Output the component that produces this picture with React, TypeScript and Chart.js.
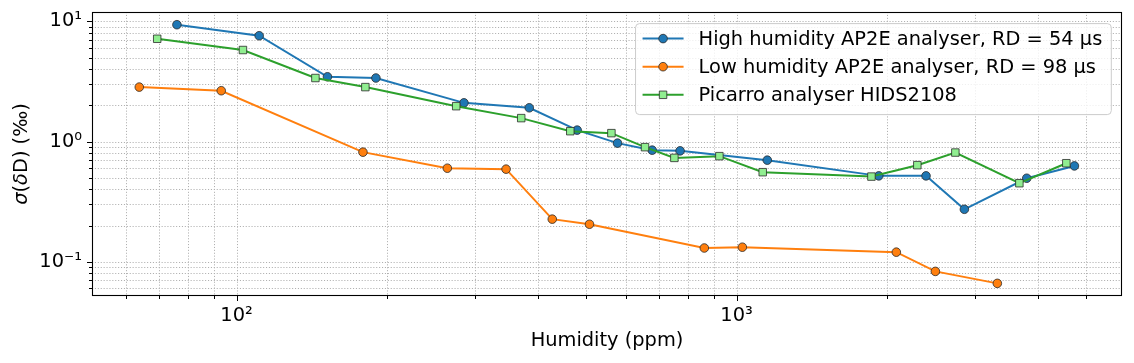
import React, { useEffect, useRef } from 'react';
import { Chart, registerables } from 'chart.js';

Chart.register(...registerables);

const FONT = '"DejaVu Sans", sans-serif';
const FONT_SIZE = 19.4;

// ---- data ----
const highHumidityX = [76, 111, 152, 190, 285, 385, 480, 578, 678, 771, 1152, 1925, 2393, 2855, 3805, 4739];
const highHumidityY = [9.39, 7.6, 3.46, 3.38, 2.1, 1.91, 1.245, 0.97, 0.848, 0.837, 0.7, 0.518, 0.518, 0.273, 0.495, 0.627];

const lowHumidityX = [63.9, 93.2, 179, 264, 346, 428, 508, 862, 1027, 2087, 2498, 3323];
const lowHumidityY = [2.84, 2.65, 0.816, 0.6, 0.589, 0.226, 0.205, 0.13, 0.132, 0.12, 0.083, 0.066];

const picarroX = [69.4, 103, 143.8, 181, 275, 371, 465, 562, 656, 751, 924, 1128, 1861, 2299, 2739, 3678, 4566];
const picarroY = [7.17, 5.78, 3.38, 2.84, 1.97, 1.567, 1.22, 1.175, 0.898, 0.731, 0.756, 0.556, 0.511, 0.636, 0.81, 0.45, 0.66];

const seriesLabels = [
  'High humidity AP2E analyser, RD = 54 µs',
  'Low humidity AP2E analyser, RD = 98 µs',
  'Picarro analyser HIDS2108',
];

const xMajorTicks = [100, 1000];
const xMajorTickLabels = ['10²', '10³'];
const xMinorTicks = [60, 70, 80, 90, 200, 300, 400, 500, 600, 700, 800, 900, 2000, 3000, 4000, 5000];

const yMajorTicks = [0.1, 1, 10];
const yMajorTickLabels = ['10⁻¹', '10⁰', '10¹'];
const yMinorTicks = [0.06, 0.07, 0.08, 0.09, 0.2, 0.3, 0.4, 0.5, 0.6, 0.7, 0.8, 0.9, 2, 3, 4, 5, 6, 7, 8, 9];

const xRange = [51.4, 5900];
const yRange = [0.0518, 11.98];

const xTitle = 'Humidity (ppm)';
// y title pieces: [text, italic]
const yTitleParts: [string, boolean][] = [
  ['σ', true],
  ['(', false],
  ['δ', true],
  ['D) (‰)', false],
];

// ---- styles ----
const seriesStyles = [
  { line: '#1f77b4', fill: '#1f77b4', shape: 'circle', radius: 4.3 },
  { line: '#ff7f0e', fill: '#ff7f0e', shape: 'circle', radius: 4.3 },
  { line: '#2ca02c', fill: '#90ee90', shape: 'rect', radius: 5.3 },
];
const MARKER_EDGE = '#2b2b2b';

function drawMarker(ctx: CanvasRenderingContext2D, shape: string, x: number, y: number, r: number, fill: string) {
  ctx.save();
  ctx.fillStyle = fill;
  ctx.strokeStyle = MARKER_EDGE;
  ctx.lineWidth = 0.8;
  ctx.setLineDash([]);
  ctx.beginPath();
  if (shape === 'rect') {
    const s = r * Math.SQRT1_2;
    ctx.rect(x - s, y - s, 2 * s, 2 * s);
  } else {
    ctx.arc(x, y, r, 0, Math.PI * 2);
  }
  ctx.fill();
  ctx.stroke();
  ctx.restore();
}

const decorPlugin = {
  id: 'decor',
  beforeDatasetsDraw(chart: any) {
    const { ctx, chartArea: a, scales } = chart;
    ctx.save();
    ctx.beginPath();
    ctx.rect(a.left, a.top, a.right - a.left, a.bottom - a.top);
    ctx.clip();
    ctx.strokeStyle = '#b0b0b0';
    ctx.lineWidth = 1;
    ctx.setLineDash([1.1, 1.8]);
    for (const v of [...xMajorTicks, ...xMinorTicks]) {
      const px = Math.round(scales.x.getPixelForValue(v)) + 0.5;
      ctx.beginPath();
      ctx.moveTo(px, a.top);
      ctx.lineTo(px, a.bottom);
      ctx.stroke();
    }
    for (const v of [...yMajorTicks, ...yMinorTicks]) {
      const py = Math.round(scales.y.getPixelForValue(v)) + 0.5;
      ctx.beginPath();
      ctx.moveTo(a.left, py);
      ctx.lineTo(a.right, py);
      ctx.stroke();
    }
    ctx.restore();

    // y axis title with italic Greek letters
    ctx.save();
    const cx = 21.5;
    const cy = (a.top + a.bottom) / 2;
    const fontN = `${FONT_SIZE}px ${FONT}`;
    const fontI = `italic ${FONT_SIZE}px ${FONT}`;
    let total = 0;
    const widths = yTitleParts.map(([t, it]) => {
      ctx.font = it ? fontI : fontN;
      const w = ctx.measureText(t).width;
      total += w;
      return w;
    });
    ctx.translate(cx, cy);
    ctx.rotate(-Math.PI / 2);
    ctx.fillStyle = '#000';
    ctx.textBaseline = 'middle';
    ctx.textAlign = 'left';
    let x = -total / 2;
    yTitleParts.forEach(([t, it], i) => {
      ctx.font = it ? fontI : fontN;
      ctx.fillText(t, x, 0);
      x += widths[i];
    });
    ctx.restore();
  },
  afterDatasetsDraw(chart: any) {
    const { ctx, chartArea: a, scales } = chart;
    ctx.save();
    ctx.setLineDash([]);
    // tick marks
    ctx.strokeStyle = '#000';
    ctx.lineWidth = 1;
    const xt = (v: number, len: number) => {
      const px = Math.round(scales.x.getPixelForValue(v)) + 0.5;
      ctx.beginPath();
      ctx.moveTo(px, a.bottom);
      ctx.lineTo(px, a.bottom + len);
      ctx.stroke();
    };
    const yt = (v: number, len: number) => {
      const py = Math.round(scales.y.getPixelForValue(v)) + 0.5;
      ctx.beginPath();
      ctx.moveTo(a.left, py);
      ctx.lineTo(a.left - len, py);
      ctx.stroke();
    };
    xMajorTicks.forEach((v) => xt(v, 5));
    xMinorTicks.forEach((v) => xt(v, 3));
    yMajorTicks.forEach((v) => yt(v, 5));
    yMinorTicks.forEach((v) => yt(v, 3));
    // frame
    ctx.lineWidth = 1.1;
    ctx.strokeStyle = '#000';
    ctx.strokeRect(Math.round(a.left) + 0.5, Math.round(a.top) + 0.5, Math.round(a.right - a.left) - 1, Math.round(a.bottom - a.top) - 1);

    // legend
    ctx.font = `${FONT_SIZE}px ${FONT}`;
    const textW = Math.max(...seriesLabels.map((s) => ctx.measureText(s).width));
    const padL = 7, handleLen = 41, handlePad = 15, padR = 9;
    const boxW = padL + handleLen + handlePad + textW + padR;
    const boxH = 91;
    const right = a.right - 10.7;
    const top = a.top + 11.6;
    const left = right - boxW;
    const rr = 4;
    ctx.beginPath();
    ctx.moveTo(left + rr, top);
    ctx.arcTo(right, top, right, top + boxH, rr);
    ctx.arcTo(right, top + boxH, left, top + boxH, rr);
    ctx.arcTo(left, top + boxH, left, top, rr);
    ctx.arcTo(left, top, right, top, rr);
    ctx.closePath();
    ctx.fillStyle = 'rgba(255,255,255,0.8)';
    ctx.fill();
    ctx.strokeStyle = '#cccccc';
    ctx.lineWidth = 1;
    ctx.stroke();
    const rowGap = 28.1;
    seriesLabels.forEach((label, i) => {
      const st = seriesStyles[i];
      const cy = top + 15 + i * rowGap;
      const x0 = left + padL;
      ctx.strokeStyle = st.line;
      ctx.lineWidth = 2;
      ctx.beginPath();
      ctx.moveTo(x0, cy);
      ctx.lineTo(x0 + handleLen, cy);
      ctx.stroke();
      drawMarker(ctx, st.shape, x0 + handleLen / 2, cy, st.radius, st.fill);
      ctx.fillStyle = '#000';
      ctx.textBaseline = 'middle';
      ctx.textAlign = 'left';
      ctx.font = `${FONT_SIZE}px ${FONT}`;
      ctx.fillText(label, x0 + handleLen + handlePad, cy + 1);
    });
    ctx.restore();
  },
};

function makeDataset(label: string, xs: number[], ys: number[], idx: number, order: number) {
  const st = seriesStyles[idx];
  return {
    label,
    data: xs.map((x, i) => ({ x, y: ys[i] })),
    borderColor: st.line,
    backgroundColor: st.fill,
    pointBackgroundColor: st.fill,
    pointBorderColor: MARKER_EDGE,
    pointBorderWidth: 0.8,
    pointRadius: st.radius,
    pointHoverRadius: st.radius,
    pointStyle: st.shape,
    borderWidth: 2,
    tension: 0,
    fill: false,
    order,
  };
}

const zeroPad = (s: any) => {
  s.paddingTop = 0;
  s.paddingBottom = 0;
  s.paddingLeft = 0;
  s.paddingRight = 0;
};

export default function App() {
  const ref = useRef<HTMLCanvasElement | null>(null);
  useEffect(() => {
    document.body.style.margin = '0';
    const canvas = ref.current;
    if (!canvas) return;
    const tickFont = { family: FONT, size: FONT_SIZE };
    const chart = new Chart(canvas, {
      type: 'line',
      data: {
        datasets: [
          makeDataset(seriesLabels[0], highHumidityX, highHumidityY, 0, 2),
          makeDataset(seriesLabels[1], lowHumidityX, lowHumidityY, 1, 1),
          makeDataset(seriesLabels[2], picarroX, picarroY, 2, 0),
        ] as any,
      },
      options: {
        responsive: false,
        animation: false,
        devicePixelRatio: 1,
        layout: { padding: { top: 12, right: 12, left: 0, bottom: 0 } },
        plugins: { legend: { display: false }, tooltip: { enabled: false } },
        scales: {
          x: {
            type: 'logarithmic',
            min: xRange[0],
            max: xRange[1],
            grid: { display: false, drawTicks: false, tickLength: 0 },
            border: { display: false },
            afterBuildTicks: (s: any) => {
              s.ticks = [...xMinorTicks, ...xMajorTicks].sort((p, q) => p - q).map((v) => ({ value: v }));
            },
            afterFit: (s: any) => {
              s.height = 67;
              zeroPad(s);
            },
            ticks: {
              autoSkip: false,
              maxRotation: 0,
              minRotation: 0,
              padding: 8,
              color: '#000',
              font: tickFont,
              callback: (v: any) => {
                const i = xMajorTicks.indexOf(Number(v));
                return i >= 0 ? xMajorTickLabels[i] : '';
              },
            },
            title: {
              display: true,
              text: xTitle,
              color: '#000',
              font: tickFont,
              padding: { top: 0, bottom: 10 },
            },
          },
          y: {
            type: 'logarithmic',
            min: yRange[0],
            max: yRange[1],
            grid: { display: false, drawTicks: false, tickLength: 0 },
            border: { display: false },
            afterBuildTicks: (s: any) => {
              s.ticks = [...yMinorTicks, ...yMajorTicks].sort((p, q) => p - q).map((v) => ({ value: v }));
            },
            afterFit: (s: any) => {
              s.width = 92;
              zeroPad(s);
            },
            ticks: {
              autoSkip: false,
              padding: 10,
              color: '#000',
              font: tickFont,
              callback: (v: any) => {
                const i = yMajorTicks.findIndex((m) => Math.abs(m - Number(v)) < m * 1e-6);
                return i >= 0 ? yMajorTickLabels[i] : '';
              },
            },
            title: { display: false },
          },
        },
      } as any,
      plugins: [decorPlugin],
    });
    return () => chart.destroy();
  }, []);
  return (
    <div style={{ position: 'absolute', left: 0, top: 0, width: 1134, height: 363, background: '#fff' }}>
      <canvas ref={ref} width={1134} height={363} style={{ display: 'block', width: 1134, height: 363 }} />
    </div>
  );
}
